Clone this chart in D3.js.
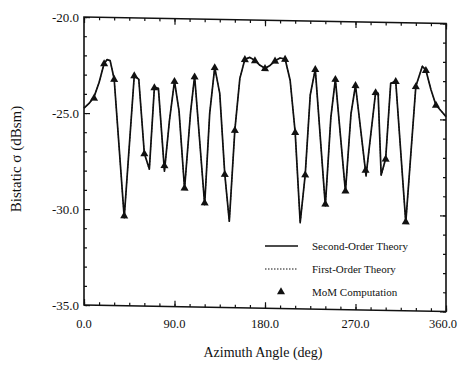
<!DOCTYPE html>
<html><head><meta charset="utf-8">
<script src="https://cdn.jsdelivr.net/npm/d3@7"></script>
<style>
body{margin:0;background:#fff}
svg{display:block}
text{font-family:"Liberation Serif","Times New Roman",serif;fill:#111}
</style>
</head><body>
<svg id="c" width="459" height="367"></svg>
<script>
// ---- data ----
const theoryAngles = [0,5,10,15,20,23,26,30,40,50,54.5,60,65,70,74,80,85,90,94.5,100,106,110,120,125,130,135,140,144.5,150,155,160,165,170,175,180,185,190,195,200,205,210,215,220,225,230,240,245.5,250,260,265.5,270,280.5,290,292.5,295.5,300,305,310,320,330,336.5,340,345,350,355,360];
const secondOrder = [-24.75,-24.5,-24.15,-23.4,-22.4,-22.2,-22.25,-23.2,-30.4,-23.0,-23.2,-27.05,-27.85,-23.6,-23.65,-27.95,-25.3,-23.25,-24.8,-28.85,-24.85,-22.97,-29.65,-24.9,-22.5,-23.85,-28.05,-30.5,-25.75,-23.05,-22.05,-21.95,-22.1,-22.35,-22.5,-22.35,-22.1,-21.95,-22.0,-23.1,-25.8,-30.5,-28.0,-23.85,-22.5,-29.6,-25.0,-23.0,-28.85,-24.8,-23.3,-28.0,-23.65,-23.7,-27.95,-27.1,-23.17,-23.05,-30.4,-23.3,-22.25,-22.45,-23.45,-24.25,-24.55,-24.85];
const firstOrder = [-24.75,-24.5,-24.15,-23.4,-22.4,-22.2,-22.25,-23.2,-30.45,-23.0,-23.2,-27.05,-27.9,-23.6,-23.65,-28.0,-25.3,-23.25,-24.8,-28.9,-24.85,-22.97,-29.7,-24.9,-22.5,-23.85,-28.05,-30.55,-25.75,-23.05,-22.05,-21.95,-22.1,-22.35,-22.5,-22.35,-22.1,-21.95,-22.0,-23.1,-25.8,-30.55,-28.0,-23.85,-22.5,-29.65,-25.0,-23.0,-28.9,-24.8,-23.3,-28.05,-23.65,-23.7,-28.0,-27.1,-23.17,-23.05,-30.45,-23.3,-22.25,-22.45,-23.45,-24.25,-24.55,-24.85];
const momAngles = [10,20,30,40,50,60,70,80,90,100,110,120,130,140,150,160,170,180,190,200,210,220,230,240,250,260,270,280,290,300,310,320,330,340,350];
const momValues = [-24.2,-22.4,-23.2,-30.3,-23.0,-27.05,-23.6,-27.65,-23.25,-28.8,-23.0,-29.55,-22.5,-28.05,-25.75,-22.05,-22.1,-22.5,-22.1,-22.0,-25.8,-28.0,-22.5,-29.5,-23.0,-28.8,-23.3,-27.7,-23.65,-27.1,-23.05,-30.35,-23.3,-22.45,-24.25];
const xTicks = [0,90,180,270,360];
const yTicks = [-20,-25,-30,-35];
const xMinor = d3.range(0,361,15);
const yMinor = d3.range(-35,-19,1);
const legendLabels = ["Second-Order Theory","First-Order Theory","MoM Computation"];
const xTitle = "Azimuth Angle (deg)";
const yTitle = "Bistatic σ (dBsm)";

// ---- layout ----
const W = 459;
const svg = d3.select("#c");
const L=84, T=17, R=446, B=305;
const x = d3.scaleLinear().domain([0,360]).range([L,R]);
const y = d3.scaleLinear().domain([-35,-20]).range([B,T]);
const ink = "#111";

// the scanned frame is slightly sheared
const plot = svg.append("g").attr("transform",`translate(${L},0) skewY(1.03) translate(${-L},0)`);

function addAxis(axisFn, scale, vals, size, tr){
  const g = plot.append("g").attr("transform",tr)
    .call(axisFn(scale).tickValues(vals).tickSize(size).tickFormat(""));
  g.select(".domain").remove();
  g.selectAll(".tick line").attr("stroke",ink).attr("stroke-width",1.2);
}
addAxis(d3.axisBottom, x, xMinor, -3, `translate(0,${B})`);
addAxis(d3.axisBottom, x, xTicks, -6, `translate(0,${B})`);
addAxis(d3.axisTop, x, xMinor, -3, `translate(0,${T})`);
addAxis(d3.axisTop, x, xTicks, -6, `translate(0,${T})`);
addAxis(d3.axisLeft, y, yMinor, -3, `translate(${L},0)`);
addAxis(d3.axisLeft, y, yTicks, -6, `translate(${L},0)`);
addAxis(d3.axisRight, y, yMinor, -3, `translate(${R},0)`);
addAxis(d3.axisRight, y, yTicks, -6, `translate(${R},0)`);

plot.append("rect").attr("x",L).attr("y",T).attr("width",R-L).attr("height",B-T)
  .attr("fill","none").attr("stroke",ink).attr("stroke-width",1.6);

const line = d3.line().x(d=>x(d[0])).y(d=>y(d[1]));
plot.append("path").datum(theoryAngles.map((a,i)=>[a,secondOrder[i]]))
  .attr("d",line).attr("fill","none").attr("stroke",ink).attr("stroke-width",1.7).attr("stroke-linejoin","round");
plot.append("path").datum(theoryAngles.map((a,i)=>[a,firstOrder[i]]))
  .attr("d",line).attr("fill","none").attr("stroke",ink).attr("stroke-width",1).attr("stroke-dasharray","1.5,1.5");

const tri = d3.symbol(d3.symbolTriangle).size(28);
plot.append("g").selectAll("path").data(momAngles.map((a,i)=>[a,momValues[i]])).join("path")
  .attr("d",tri).attr("transform",d=>`translate(${x(d[0])},${y(d[1])+0.5})`).attr("fill",ink);

// ---- tick labels ----
svg.append("g").selectAll("text").data(yTicks).join("text")
  .attr("x",L-5).attr("y",d=>y(d)+4.5).attr("text-anchor","end").attr("font-size",13)
  .text(d=>d.toFixed(1));
svg.append("g").selectAll("text").data(xTicks).join("text")
  .attr("x",d=>Math.min(x(d), W-16)).attr("y",328).attr("text-anchor","middle").attr("font-size",12.5)
  .text(d=>d.toFixed(1));

// ---- titles ----
svg.append("text").attr("x",263).attr("y",357).attr("text-anchor","middle").attr("font-size",14).text(xTitle);
svg.append("text").attr("transform","translate(21,159) rotate(-90)").attr("text-anchor","middle").attr("font-size",15).text(yTitle);

// ---- legend ----
const lg = svg.append("g");
const rowsY = [246,269,292];
lg.append("line").attr("x1",265).attr("x2",298).attr("y1",rowsY[0]).attr("y2",rowsY[0]).attr("stroke",ink).attr("stroke-width",1.5);
lg.append("line").attr("x1",265).attr("x2",298).attr("y1",rowsY[1]).attr("y2",rowsY[1]).attr("stroke",ink).attr("stroke-width",1).attr("stroke-dasharray","1.5,1.5");
lg.append("path").attr("d",tri).attr("transform",`translate(281,${rowsY[2]})`).attr("fill",ink);
lg.selectAll("text").data(legendLabels).join("text")
  .attr("x",312).attr("y",(d,i)=>rowsY[i]+4).attr("font-size",11).text(d=>d);
</script>
</body></html>
